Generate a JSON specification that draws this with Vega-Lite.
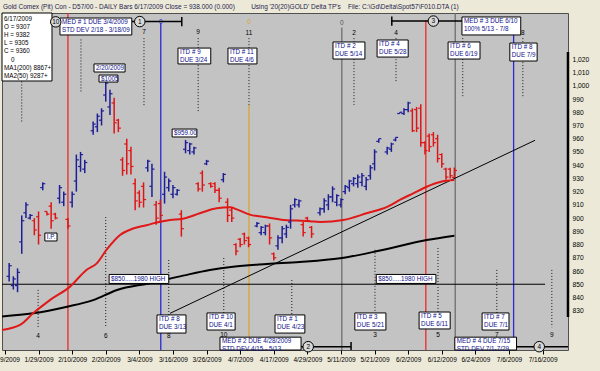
{
  "$schema": "https://vega.github.io/schema/vega-lite/v6.json",
  "width": 566,
  "height": 337,
  "autosize": {"type": "none"},
  "padding": {"left": 2, "top": 13, "right": 32, "bottom": 21},
  "background": "#ece9d8",
  "title": {
    "text": "Gold Comex (Pit) Con - D57/00 - DAILY Bars 6/17/2009 Close = 938.000 (0.000)\u00a0\u00a0\u00a0\u00a0\u00a0\u00a0\u00a0\u00a0\u00a0Using '20(20)GOLD' Delta TP's\u00a0\u00a0\u00a0\u00a0File: C:\\Gd\\Delta\\Spot57\\F010.DTA (1)",
    "anchor": "start", "frame": "group", "fontSize": 6.5, "font": "Liberation Sans", "fontWeight": "normal",
    "color": "#1c1c50", "offset": 3.5, "baseline": "bottom", "dx": 1, "dy": 7.5
  },
  "config": {
    "font": "Liberation Sans",
    "view": {"fill": "#c3c3c3", "stroke": "#505050", "strokeWidth": 1},
    "axis": {"grid": false, "domain": false, "labelOverlap": false, "labelFlush": false, "labelColor": "#000000", "labelBound": false, "tickCount": 200},
    "axisX": {"labelFontSize": 6.5, "tickSize": 4, "tickColor": "#000000", "labelPadding": 2},
    "axisY": {"labelFontSize": 6.7, "ticks": false, "labelPadding": 4}
  },
  "resolve": {"scale": {"color": "independent", "stroke": "independent"}},
  "datasets": {
    "bars": [
      {"i":1,"o":856,"h":866,"l":852,"c":864,"dir":"up"},
      {"i":2,"o":849,"h":856,"l":846,"c":854,"dir":"up"},
      {"i":3,"o":849,"h":862,"l":844,"c":859,"dir":"up"},
      {"i":4,"o":882,"h":902,"l":873,"c":898,"dir":"up"},
      {"i":5,"o":904,"h":912,"l":900,"c":910,"dir":"up"},
      {"i":6,"o":900,"h":903,"l":899,"c":902,"dir":"up"},
      {"i":7,"o":898,"h":900,"l":887,"c":891,"dir":"down"},
      {"i":8,"o":901,"h":905,"l":880,"c":887,"dir":"down"},
      {"i":9,"o":923,"h":927,"l":921,"c":926,"dir":"up"},
      {"i":10,"o":905,"h":905,"l":902,"c":903,"dir":"down"},
      {"i":11,"o":909,"h":912,"l":892,"c":898,"dir":"down"},
      {"i":12,"o":903,"h":904,"l":899,"c":900,"dir":"down"},
      {"i":13,"o":915,"h":925,"l":911,"c":923,"dir":"up"},
      {"i":14,"o":912,"h":920,"l":909,"c":918,"dir":"up"},
      {"i":15,"o":899,"h":900,"l":892,"c":894,"dir":"down"},
      {"i":16,"o":912,"h":920,"l":908,"c":918,"dir":"up"},
      {"i":17,"o":928,"h":948,"l":920,"c":944,"dir":"up"},
      {"i":18,"o":939,"h":950,"l":935,"c":948,"dir":"up"},
      {"i":19,"o":937,"h":944,"l":934,"c":942,"dir":"up"},
      {"i":21,"o":966,"h":973,"l":963,"c":971,"dir":"up"},
      {"i":22,"o":969,"h":979,"l":965,"c":977,"dir":"up"},
      {"i":23,"o":974,"h":983,"l":970,"c":981,"dir":"up"},
      {"i":24,"o":993,"h":1005,"l":988,"c":1002,"dir":"up"},
      {"i":25,"o":984,"h":997,"l":978,"c":994,"dir":"up"},
      {"i":26,"o":987,"h":991,"l":964,"c":972,"dir":"down"},
      {"i":27,"o":974,"h":975,"l":965,"c":968,"dir":"down"},
      {"i":28,"o":944,"h":946,"l":932,"c":936,"dir":"down"},
      {"i":29,"o":956,"h":960,"l":933,"c":941,"dir":"down"},
      {"i":30,"o":951,"h":954,"l":933,"c":939,"dir":"down"},
      {"i":31,"o":926,"h":930,"l":906,"c":913,"dir":"down"},
      {"i":32,"o":919,"h":921,"l":908,"c":912,"dir":"down"},
      {"i":33,"o":924,"h":927,"l":908,"c":914,"dir":"down"},
      {"i":34,"o":938,"h":944,"l":935,"c":943,"dir":"up"},
      {"i":35,"o":924,"h":941,"l":916,"c":937,"dir":"up"},
      {"i":36,"o":910,"h":913,"l":895,"c":900,"dir":"down"},
      {"i":37,"o":911,"h":914,"l":897,"c":902,"dir":"down"},
      {"i":38,"o":918,"h":935,"l":911,"c":931,"dir":"up"},
      {"i":39,"o":923,"h":930,"l":920,"c":928,"dir":"up"},
      {"i":40,"o":918,"h":925,"l":915,"c":923,"dir":"up"},
      {"i":41,"o":918,"h":922,"l":917,"c":921,"dir":"up"},
      {"i":42,"o":903,"h":906,"l":886,"c":892,"dir":"down"},
      {"i":43,"o":952,"h":959,"l":949,"c":957,"dir":"up"},
      {"i":44,"o":951,"h":957,"l":948,"c":956,"dir":"up"},
      {"i":45,"o":950,"h":954,"l":948,"c":953,"dir":"up"},
      {"i":46,"o":926,"h":927,"l":920,"c":922,"dir":"down"},
      {"i":47,"o":934,"h":936,"l":920,"c":925,"dir":"down"},
      {"i":48,"o":941,"h":944,"l":940,"c":943,"dir":"up"},
      {"i":49,"o":926,"h":927,"l":923,"c":924,"dir":"down"},
      {"i":50,"o":926,"h":927,"l":919,"c":921,"dir":"down"},
      {"i":51,"o":921,"h":923,"l":912,"c":915,"dir":"down"},
      {"i":52,"o":929,"h":934,"l":927,"c":933,"dir":"up"},
      {"i":53,"o":912,"h":915,"l":897,"c":902,"dir":"down"},
      {"i":54,"o":906,"h":908,"l":897,"c":900,"dir":"down"},
      {"i":55,"o":880,"h":881,"l":872,"c":875,"dir":"down"},
      {"i":56,"o":884,"h":885,"l":878,"c":880,"dir":"down"},
      {"i":57,"o":888,"h":889,"l":880,"c":883,"dir":"down"},
      {"i":58,"o":885,"h":886,"l":878,"c":880,"dir":"down"},
      {"i":60,"o":894,"h":897,"l":893,"c":896,"dir":"up"},
      {"i":61,"o":889,"h":894,"l":887,"c":893,"dir":"up"},
      {"i":62,"o":889,"h":895,"l":887,"c":894,"dir":"up"},
      {"i":63,"o":894,"h":896,"l":880,"c":885,"dir":"down"},
      {"i":64,"o":873,"h":874,"l":868,"c":870,"dir":"down"},
      {"i":65,"o":879,"h":887,"l":876,"c":885,"dir":"up"},
      {"i":66,"o":885,"h":894,"l":881,"c":892,"dir":"up"},
      {"i":67,"o":888,"h":895,"l":885,"c":893,"dir":"up"},
      {"i":68,"o":897,"h":910,"l":892,"c":907,"dir":"up"},
      {"i":69,"o":910,"h":915,"l":908,"c":914,"dir":"up"},
      {"i":70,"o":910,"h":914,"l":908,"c":913,"dir":"up"},
      {"i":71,"o":895,"h":897,"l":886,"c":889,"dir":"down"},
      {"i":72,"o":900,"h":901,"l":897,"c":898,"dir":"down"},
      {"i":73,"o":893,"h":894,"l":885,"c":888,"dir":"down"},
      {"i":75,"o":904,"h":908,"l":902,"c":907,"dir":"up"},
      {"i":76,"o":907,"h":915,"l":904,"c":913,"dir":"up"},
      {"i":77,"o":910,"h":918,"l":906,"c":916,"dir":"up"},
      {"i":78,"o":916,"h":924,"l":912,"c":922,"dir":"up"},
      {"i":79,"o":912,"h":918,"l":909,"c":917,"dir":"up"},
      {"i":80,"o":910,"h":915,"l":908,"c":914,"dir":"up"},
      {"i":81,"o":920,"h":925,"l":918,"c":924,"dir":"up"},
      {"i":82,"o":923,"h":929,"l":920,"c":928,"dir":"up"},
      {"i":83,"o":926,"h":931,"l":924,"c":930,"dir":"up"},
      {"i":84,"o":926,"h":933,"l":923,"c":931,"dir":"up"},
      {"i":85,"o":927,"h":934,"l":924,"c":932,"dir":"up"},
      {"i":86,"o":924,"h":931,"l":921,"c":929,"dir":"up"},
      {"i":87,"o":932,"h":940,"l":929,"c":938,"dir":"up"},
      {"i":88,"o":941,"h":952,"l":936,"c":950,"dir":"up"},
      {"i":89,"o":958,"h":960,"l":957,"c":960,"dir":"up"},
      {"i":91,"o":950,"h":954,"l":948,"c":953,"dir":"up"},
      {"i":92,"o":952,"h":957,"l":950,"c":956,"dir":"up"},
      {"i":93,"o":959,"h":961,"l":958,"c":961,"dir":"up"},
      {"i":94,"o":979,"h":980,"l":979,"c":980,"dir":"up"},
      {"i":95,"o":979,"h":983,"l":978,"c":982,"dir":"up"},
      {"i":96,"o":982,"h":988,"l":980,"c":987,"dir":"up"},
      {"i":97,"o":981,"h":983,"l":965,"c":966,"dir":"down"},
      {"i":98,"o":982,"h":984,"l":965,"c":968,"dir":"down"},
      {"i":99,"o":983,"h":986,"l":954,"c":957,"dir":"down"},
      {"i":100,"o":957,"h":958,"l":948,"c":951,"dir":"down"},
      {"i":101,"o":962,"h":964,"l":950,"c":954,"dir":"down"},
      {"i":102,"o":963,"h":965,"l":954,"c":957,"dir":"down"},
      {"i":103,"o":960,"h":963,"l":942,"c":945,"dir":"down"},
      {"i":104,"o":948,"h":949,"l":938,"c":941,"dir":"down"},
      {"i":105,"o":937,"h":938,"l":929,"c":931,"dir":"down"},
      {"i":106,"o":937,"h":938,"l":930,"c":932,"dir":"down"},
      {"i":107,"o":930.7,"h":938.2,"l":930.5,"c":936.0,"dir":"down"}
    ],
    "ma50": [
      {"i":-0.7,"p":815.4},{"i":3.6,"p":819.2},{"i":6.7,"p":828},{"i":10.7,"p":838},
      {"i":15.5,"p":848.2},{"i":19.4,"p":860.8},{"i":21.8,"p":865.6},{"i":24.2,"p":876.1},
      {"i":27.4,"p":887.2},{"i":30.5,"p":892.1},{"i":33.7,"p":894.6},{"i":36.1,"p":896.6},
      {"i":39.3,"p":898.6},{"i":42.1,"p":899.3},{"i":46.4,"p":903.6},{"i":50.4,"p":907.4},
      {"i":53.6,"p":908.1},{"i":55.2,"p":906.6},{"i":58.3,"p":902.6},{"i":62.3,"p":900.6},
      {"i":66.3,"p":898.6},{"i":69.5,"p":898.1},{"i":72.6,"p":897.6},{"i":75,"p":897},
      {"i":80.6,"p":898.6},{"i":86.1,"p":903.6},{"i":91.1,"p":908.6},{"i":94,"p":913.7},
      {"i":97.2,"p":918.7},{"i":100.4,"p":923.7},{"i":103.6,"p":927.3},{"i":107,"p":928.7}
    ],
    "ma200": [
      {"i":-0.7,"p":825.6},{"i":6.7,"p":828},{"i":14.8,"p":833},{"i":21,"p":838},
      {"i":26.7,"p":845.7},{"i":34.5,"p":850.8},{"i":42.4,"p":856.5},{"i":48.8,"p":860.8},
      {"i":54.3,"p":863.3},{"i":62.4,"p":865.3},{"i":70.2,"p":866.8},{"i":79.8,"p":869.6},
      {"i":89.3,"p":875.5},{"i":100.4,"p":883.4},{"i":107,"p":886.7}
    ],
    "vlines": [
      {"i":15.0,"top":1055,"bot":800.3,"kind":"red"},
      {"i":37.1,"top":1047.5,"bot":800.3,"kind":"blue"},
      {"i":58.1,"top":985.5,"bot":800.3,"kind":"gold"},
      {"i":80.2,"top":1044,"bot":800.3,"kind":"gray"},
      {"i":100.2,"top":1049.5,"bot":800.3,"kind":"red"},
      {"i":107.2,"top":1055,"bot":800.3,"kind":"gray"},
      {"i":121.1,"top":1039,"bot":800.3,"kind":"blue"}
    ],
    "dots": [
      {"i":4.0,"top":1035,"bot":972.6},{"i":18.1,"top":1035,"bot":995.3},
      {"i":33.1,"top":1036,"bot":984},{"i":46.0,"top":1036,"bot":980.2},
      {"i":58.1,"top":1036,"bot":985.5},{"i":83.1,"top":1036,"bot":985.5},
      {"i":93.1,"top":1036,"bot":1002},{"i":109.0,"top":1036,"bot":990.8},
      {"i":123.3,"top":1036,"bot":991.5},
      {"i":7.9,"top":845.7,"bot":817.5},{"i":24.0,"top":900.8,"bot":817.5},
      {"i":39.0,"top":868.3,"bot":817.5},{"i":52.1,"top":869.8,"bot":817.5},
      {"i":68.3,"top":853.2,"bot":817.5},{"i":88.1,"top":876,"bot":817.5},
      {"i":103.1,"top":877.4,"bot":817.5},{"i":117.1,"top":860.8,"bot":817.5},
      {"i":130.2,"top":860.8,"bot":817.5}
    ],
    "guides": [
      {"name":"$850 1980 high","x1":-0.7,"x2":128.6,"y1":850,"y2":850},
      {"name":"trend","x1":39.3,"x2":126.2,"y1":828,"y2":958.8}
    ],
    "nums": [
      {"i":33.1,"p":1040.4,"label":"7"},{"i":46.0,"p":1040.4,"label":"9"},
      {"i":58.1,"p":1040.2,"label":"11"},{"i":83.1,"p":1040.2,"label":"2"},
      {"i":93.1,"p":1040.2,"label":"4"},{"i":123.3,"p":1040.2,"label":"8"},
      {"i":7.9,"p":811.2,"label":"4"},{"i":24.0,"p":811.2,"label":"6"},
      {"i":39.0,"p":810.6,"label":"8"},{"i":52.1,"p":811.4,"label":"10"},
      {"i":88.1,"p":811.4,"label":"3"},{"i":103.1,"p":811.4,"label":"5"},
      {"i":117.1,"p":811.4,"label":"7"},{"i":130.2,"p":811.4,"label":"9"}
    ],
    "zeros": [
      {"i":37.1,"p":1048.4,"kind":"blue"},
      {"i":58.1,"p":1048.4,"kind":"gold"},
      {"i":80.2,"p":1047.8,"kind":"gray"}
    ],
    "cyclines": [
      {"x1":30.2,"x2":42.1,"p":1048.5},
      {"x1":92.1,"x2":108.8,"p":1048.9},
      {"x1":70.5,"x2":82.4,"p":802.8},
      {"x1":121.8,"x2":134.05,"p":802.8}
    ],
    "caps": [
      {"i":42.1,"top":1052,"bot":1045},
      {"i":92.1,"top":1052.4,"bot":1045.4},
      {"i":82.4,"top":806.3,"bot":800.3}
    ],
    "circles": [
      {"i":12.1,"p":1048.3,"label":"10"},
      {"i":32.1,"p":1048.5,"label":"1"},
      {"i":102.0,"p":1048.9,"label":"3"},
      {"i":72.2,"p":802.8,"label":"2"},
      {"i":127.2,"p":802.8,"label":"4"}
    ],
    "notes": [
      {"x1":13.1,"x2":30.2,"y1":1051.2,"y2":1038.4,"label":["MED # 1 DUE 3/4/2009","STD DEV 2/18 - 3/18/09"]},
      {"x1":41.2,"x2":49.0,"y1":1028.5,"y2":1016.5,"label":["ITD # 9","DUE 3/24"]},
      {"x1":53.1,"x2":60.0,"y1":1028.5,"y2":1016.5,"label":["ITD # 11","DUE 4/6"]},
      {"x1":78.1,"x2":85.7,"y1":1033.1,"y2":1020.2,"label":["ITD # 2","DUE 5/14"]},
      {"x1":88.6,"x2":96.0,"y1":1034.6,"y2":1021.7,"label":["ITD # 4","DUE 5/28"]},
      {"x1":105.5,"x2":113.1,"y1":1033.1,"y2":1020.2,"label":["ITD # 6","DUE 6/19"]},
      {"x1":120.2,"x2":126.7,"y1":1032.3,"y2":1018.7,"label":["ITD # 8","DUE 7/9"]},
      {"x1":108.8,"x2":122.8,"y1":1052.0,"y2":1038.4,"label":["MED # 3 DUE 6/10","100% 5/13 - 7/8"]},
      {"x1":21.2,"x2":28.6,"y1":1016.5,"y2":1010.4,"label":["2/20/2009"]},
      {"x1":22.4,"x2":26.9,"y1":1008.1,"y2":1002.8,"label":["$1005"]},
      {"x1":39.8,"x2":45.7,"y1":967.3,"y2":961.3,"label":["$959.00"]},
      {"x1":9.5,"x2":12.4,"y1":888.7,"y2":882.7,"label":["I.P."]},
      {"x1":24.8,"x2":39.0,"y1":857.4,"y2":850.6,"label":["$850.....1980 HIGH"]},
      {"x1":88.4,"x2":102.6,"y1":857.4,"y2":850.6,"label":["$850.....1980 HIGH"]},
      {"x1":36.2,"x2":43.1,"y1":826.8,"y2":813.1,"label":["ITD # 8","DUE 3/13"]},
      {"x1":48.1,"x2":54.8,"y1":828.3,"y2":815.4,"label":["ITD # 10","DUE 4/1"]},
      {"x1":64.3,"x2":71.4,"y1":826.8,"y2":813.1,"label":["ITD # 1","DUE 4/23"]},
      {"x1":51.2,"x2":70.5,"y1":810.0,"y2":800.3,"label":["MED # 2 DUE 4/28/2009","STD DEV 4/15 - 5/13"]},
      {"x1":83.3,"x2":90.7,"y1":828.3,"y2":815.4,"label":["ITD # 3","DUE 5/21"]},
      {"x1":98.6,"x2":106.0,"y1":829.0,"y2":816.2,"label":["ITD # 5","DUE 6/11"]},
      {"x1":113.6,"x2":120.0,"y1":828.3,"y2":815.4,"label":["ITD # 7","DUE 7/1"]},
      {"x1":107.1,"x2":121.8,"y1":810.0,"y2":800.3,"label":["MED # 4 DUE 7/15","STD DEV 7/1-7/29"]}
    ],
    "legendbox": [
      {"x1":-0.7,"x2":11.2,"y1":1055,"y2":1003.6,"label":["6/17/2009","O = 9307","H = 9382","L = 9305","C = 9360","\u200b\u00a0\u00a0\u00a0\u00a00","MA1(200) 8867+","MA2(50) 9287+"]}
    ]
  },
  "layer": [
    {
      "data": {"name": "vlines"},
      "mark": {"type": "rule", "strokeWidth": 1.3},
      "encoding": {
        "x": {"field": "i", "type": "quantitative",
              "scale": {"domain": [-0.7, 134.05], "nice": false, "zero": false},
              "axis": {"values": [0,8,16,24,32,40,48,56,64,72,80,88,96,104,112,120,128],
                       "labelExpr": "['1/19/2009','1/29/2009','2/10/2009','2/20/2009','3/4/2009','3/16/2009','3/26/2009','4/7/2009','4/17/2009','4/29/2009','5/11/2009','5/21/2009','6/2/2009','6/12/2009','6/24/2009','7/6/2009','7/16/2009'][round(datum.value/8)]",
                       "labelOverlap": false, "tickCount": 200, "title": null}},
        "y": {"field": "top", "type": "quantitative",
              "scale": {"domain": [800.3, 1055], "nice": false, "zero": false},
              "axis": {"orient": "right", "values": [830,840,850,860,870,880,890,900,910,920,930,940,950,960,970,980,990,1000,1010,1020],
                       "format": ",", "labelOverlap": false, "tickCount": 200,
                       "title": "Price", "titleFontSize": 6.7, "titleFontWeight": "normal",
                       "titleAngle": 90, "titlePadding": 4, "titleColor": "#000000"}},
        "y2": {"field": "bot"},
        "stroke": {"field": "kind", "type": "nominal",
                   "scale": {"domain": ["red","blue","gold","gray"], "range": ["#f02828","#2a2ad0","#d9a33a","#6e6e6e"]},
                   "legend": null}
      }
    },
    {
      "data": {"name": "dots"},
      "mark": {"type": "rule", "strokeWidth": 1, "strokeDash": [1, 2], "color": "#1a1a1a"},
      "encoding": {
        "x": {"field": "i", "type": "quantitative", "title": null},
        "y": {"field": "top", "type": "quantitative", "title": null},
        "y2": {"field": "bot"}
      }
    },
    {
      "data": {"name": "guides"},
      "mark": {"type": "rule", "strokeWidth": 1, "color": "#000000"},
      "encoding": {
        "x": {"field": "x1", "type": "quantitative", "title": null},
        "x2": {"field": "x2"},
        "y": {"field": "y1", "type": "quantitative", "title": null},
        "y2": {"field": "y2"}
      }
    },
    {
      "data": {"name": "ma200"},
      "mark": {"type": "line", "strokeWidth": 2, "color": "#000000", "interpolate": "monotone"},
      "encoding": {
        "x": {"field": "i", "type": "quantitative", "title": null},
        "y": {"field": "p", "type": "quantitative", "title": null}
      }
    },
    {
      "data": {"name": "ma50"},
      "mark": {"type": "line", "strokeWidth": 2, "color": "#e01818", "interpolate": "monotone"},
      "encoding": {
        "x": {"field": "i", "type": "quantitative", "title": null},
        "y": {"field": "p", "type": "quantitative", "title": null}
      }
    },
    {
      "data": {"name": "bars"},
      "mark": {"type": "rule", "strokeWidth": 1.5},
      "encoding": {
        "x": {"field": "i", "type": "quantitative", "title": null},
        "y": {"field": "l", "type": "quantitative", "title": null},
        "y2": {"field": "h"},
        "color": {"field": "dir", "type": "nominal", "scale": {"domain": ["up","down"], "range": ["#1e1e96","#e01414"]}, "legend": null}
      }
    },
    {
      "data": {"name": "bars"},
      "mark": {"type": "tick", "orient": "horizontal", "size": 2.5, "thickness": 1.2, "xOffset": -1.3, "opacity": 1},
      "encoding": {
        "x": {"field": "i", "type": "quantitative", "title": null},
        "y": {"field": "o", "type": "quantitative", "title": null},
        "color": {"field": "dir", "type": "nominal", "scale": {"domain": ["up","down"], "range": ["#1e1e96","#e01414"]}, "legend": null}
      }
    },
    {
      "data": {"name": "bars"},
      "mark": {"type": "tick", "orient": "horizontal", "size": 2.5, "thickness": 1.2, "xOffset": 1.3, "opacity": 1},
      "encoding": {
        "x": {"field": "i", "type": "quantitative", "title": null},
        "y": {"field": "c", "type": "quantitative", "title": null},
        "color": {"field": "dir", "type": "nominal", "scale": {"domain": ["up","down"], "range": ["#1e1e96","#e01414"]}, "legend": null}
      }
    },
    {
      "data": {"name": "zeros"},
      "mark": {"type": "text", "fontSize": 6.5, "align": "center", "baseline": "middle", "text": "0"},
      "encoding": {
        "x": {"field": "i", "type": "quantitative", "title": null},
        "y": {"field": "p", "type": "quantitative", "title": null},
        "color": {"field": "kind", "type": "nominal", "scale": {"domain": ["blue","gold","gray"], "range": ["#2a2ad0","#d9a33a","#555555"]}, "legend": null}
      }
    },
    {
      "data": {"name": "cyclines"},
      "mark": {"type": "rule", "strokeWidth": 1.5, "color": "#000000"},
      "encoding": {
        "x": {"field": "x1", "type": "quantitative", "title": null},
        "x2": {"field": "x2"},
        "y": {"field": "p", "type": "quantitative", "title": null}
      }
    },
    {
      "data": {"name": "caps"},
      "mark": {"type": "rule", "strokeWidth": 1.5, "color": "#000000"},
      "encoding": {
        "x": {"field": "i", "type": "quantitative", "title": null},
        "y": {"field": "top", "type": "quantitative", "title": null},
        "y2": {"field": "bot"}
      }
    },
    {
      "data": {"name": "notes"},
      "mark": {"type": "rect", "fill": "#ffffff", "stroke": "#000000", "strokeWidth": 1},
      "encoding": {
        "x": {"field": "x1", "type": "quantitative", "title": null},
        "x2": {"field": "x2"},
        "y": {"field": "y1", "type": "quantitative", "title": null},
        "y2": {"field": "y2"}
      }
    },
    {
      "data": {"name": "notes"},
      "mark": {"type": "text", "fontSize": 6.3, "lineHeight": 7.8, "color": "#10108a", "align": "left", "baseline": "top", "dx": 2, "dy": 1.2},
      "encoding": {
        "x": {"field": "x1", "type": "quantitative", "title": null},
        "y": {"field": "y1", "type": "quantitative", "title": null},
        "text": {"field": "label"}
      }
    },
    {
      "data": {"name": "nums"},
      "mark": {"type": "text", "fontSize": 6.5, "color": "#000000", "align": "center", "baseline": "middle"},
      "encoding": {
        "x": {"field": "i", "type": "quantitative", "title": null},
        "y": {"field": "p", "type": "quantitative", "title": null},
        "text": {"field": "label"}
      }
    },
    {
      "data": {"name": "legendbox"},
      "mark": {"type": "rect", "fill": "#ffffff", "stroke": "#000000", "strokeWidth": 1},
      "encoding": {
        "x": {"field": "x1", "type": "quantitative", "title": null},
        "x2": {"field": "x2"},
        "y": {"field": "y1", "type": "quantitative", "title": null},
        "y2": {"field": "y2"}
      }
    },
    {
      "data": {"name": "legendbox"},
      "mark": {"type": "text", "fontSize": 6.3, "lineHeight": 8.2, "color": "#000000", "align": "left", "baseline": "top", "dx": 2, "dy": 2.5},
      "encoding": {
        "x": {"field": "x1", "type": "quantitative", "title": null},
        "y": {"field": "y1", "type": "quantitative", "title": null},
        "text": {"field": "label"}
      }
    },
    {
      "data": {"name": "circles"},
      "mark": {"type": "point", "shape": "circle", "size": 110, "filled": false, "fill": "#d8d8d8", "fillOpacity": 1, "stroke": "#000000", "strokeWidth": 1, "opacity": 1},
      "encoding": {
        "x": {"field": "i", "type": "quantitative", "title": null},
        "y": {"field": "p", "type": "quantitative", "title": null}
      }
    },
    {
      "data": {"name": "circles"},
      "mark": {"type": "text", "fontSize": 6.5, "color": "#000000", "align": "center", "baseline": "middle"},
      "encoding": {
        "x": {"field": "i", "type": "quantitative", "title": null},
        "y": {"field": "p", "type": "quantitative", "title": null},
        "text": {"field": "label"}
      }
    },
    {
      "data": {"values": [{"edge": "price axis"}]},
      "mark": {"type": "rule", "strokeWidth": 2.5, "color": "#000000"},
      "encoding": {
        "x": {"datum": 134.05, "type": "quantitative", "title": null},
        "y": {"datum": 1025.5, "type": "quantitative", "title": null},
        "y2": {"datum": 825.3}
      }
    }
  ]
}
